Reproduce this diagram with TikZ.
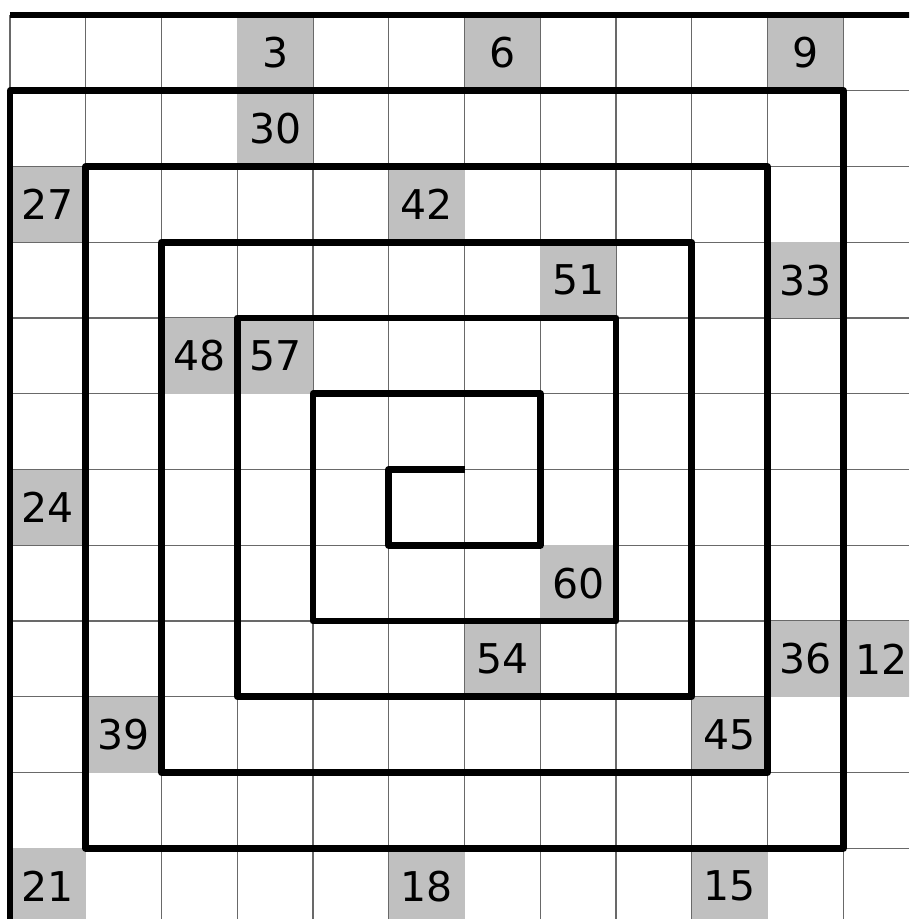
\documentclass[tikz,border=0pt]{standalone}
\usepackage{fontspec}
\setmainfont{DejaVu Sans}
\usepackage{xcolor}
\usepackage{tikz}

\definecolor{cellgray}{RGB}{192,192,192}
\definecolor{linegray}{RGB}{105,105,105}
\tikzset{
  numcell/.style={fill=cellgray, minimum size=1cm, inner sep=0pt, font=\fontsize{15.4}{18}\selectfont},
  wall/.style={line width=2.5pt, line join=round},
}

\begin{document}
\begin{tikzpicture}[x=1cm, y=-1cm]
\useasboundingbox (-0.132,-0.198) rectangle (11.868,11.934);
\clip (-0.132,-0.198) rectangle (11.868,11.934);
% grid
\draw[linegray, line width=0.4pt] (0,0) grid (11.868,11.934);
% numbered cells
\node[numcell] (n3) at (3.5,0.5) {3};
\node[numcell] (n6) at (6.5,0.5) {6};
\node[numcell] (n9) at (10.5,0.5) {9};
\node[numcell] (n30) at (3.5,1.5) {30};
\node[numcell] (n27) at (0.5,2.5) {27};
\node[numcell] (n42) at (5.5,2.5) {42};
\node[numcell] (n51) at (7.5,3.5) {51};
\node[numcell] (n33) at (10.5,3.5) {33};
\node[numcell] (n48) at (2.5,4.5) {48};
\node[numcell] (n57) at (3.5,4.5) {57};
\node[numcell] (n24) at (0.5,6.5) {24};
\node[numcell] (n60) at (7.5,7.5) {60};
\node[numcell] (n54) at (6.5,8.5) {54};
\node[numcell] (n36) at (10.5,8.5) {36};
\node[numcell] (n12) at (11.5,8.5) {12};
\node[numcell] (n39) at (1.5,9.5) {39};
\node[numcell] (n45) at (9.5,9.5) {45};
\node[numcell] (n21) at (0.5,11.5) {21};
\node[numcell] (n18) at (5.5,11.5) {18};
\node[numcell] (n15) at (9.5,11.5) {15};
% spiral walls
\draw[wall] (0,0) -- (12,0);
\draw[wall] (0,12) -- (0,1) -- (11,1) -- (11,11) -- (1,11) -- (1,2) -- (10,2) -- (10,10) -- (2,10) -- (2,3) -- (9,3) -- (9,9) -- (3,9) -- (3,4) -- (8,4) -- (8,8) -- (4,8) -- (4,5) -- (7,5) -- (7,7) -- (5,7) -- (5,6) -- (6,6);
\end{tikzpicture}
\end{document}
